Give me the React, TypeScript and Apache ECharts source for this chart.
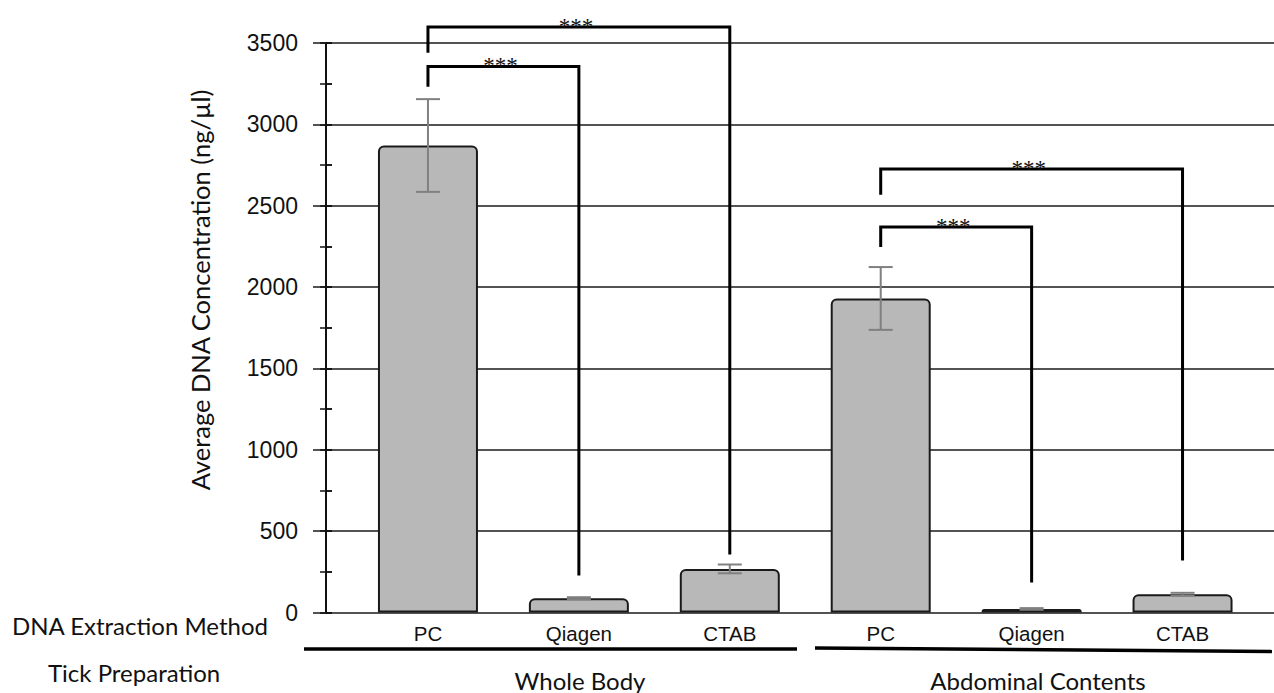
import React, { useEffect, useRef } from "react";
import * as echarts from "echarts";

const categories = ["PC", "Qiagen", "CTAB", "PC", "Qiagen", "CTAB"];
const meanValues = [2870, 88, 268, 1930, 22, 112];
const errorValues = [285, 6, 27, 193, 5, 9];
// [fromIndex, toIndex, topValue, leftLegEndValue, rightLegEndValue]
const bracketRows = [
  [0, 2, 3598, 3440, 356],
  [0, 1, 3356, 3231, 227],
  [3, 5, 2725, 2568, 319],
  [3, 4, 2369, 2246, 184],
];
const bracketLabel = "***";
const groupNames = ["Whole Body", "Abdominal Contents"];
const rowTitles = ["DNA Extraction Method", "Tick Preparation"];
const yTitle = "Average DNA Concentration (ng/µl)";
const Y_MAX = 3500;

export default function App() {
  const ref = useRef<HTMLDivElement>(null);
  useEffect(() => {
    if (!ref.current) return;
    const chart = echarts.init(ref.current, null, { renderer: "svg" });
    const top = 43;
    const height = 569.5;
    const calibri = "Lato, 'Open Sans', sans-serif";
    const arial = "Liberation Sans";
    chart.setOption({
      animation: false,
      backgroundColor: "#ffffff",
      grid: [
        { left: 313, right: 0, top, height },
        { left: 352.5, width: 905.5, top, height },
        { left: 326, right: 0, top, height },
        { left: 332, right: 0, top, height },
      ],
      xAxis: [
        { gridIndex: 0, type: "value", min: 0, max: 1, show: false },
        {
          gridIndex: 1,
          type: "category",
          data: categories,
          axisLine: { show: false },
          axisTick: { show: false },
          axisLabel: { fontSize: 20.5, color: "#111", fontFamily: arial, margin: 10 },
        },
        { gridIndex: 2, type: "value", min: 0, max: 1, show: false },
        { gridIndex: 3, type: "value", min: 0, max: 1, show: false },
      ],
      yAxis: [
        {
          gridIndex: 0,
          min: 0,
          max: Y_MAX,
          interval: 500,
          axisLine: { show: false },
          axisTick: { show: false },
          axisLabel: { show: false },
          splitLine: { show: true, lineStyle: { color: "#1a1a1a", width: 1.6 } },
        },
        { gridIndex: 1, min: 0, max: Y_MAX, show: false },
        {
          gridIndex: 2,
          min: 0,
          max: Y_MAX,
          interval: 250,
          axisLine: { show: true, onZero: false, lineStyle: { color: "#111", width: 1.6 } },
          axisTick: { show: true, inside: true, length: 6, lineStyle: { color: "#111", width: 1.5 } },
          axisLabel: { show: false },
          splitLine: { show: false },
        },
        {
          gridIndex: 3,
          min: 0,
          max: Y_MAX,
          interval: 250,
          axisLine: { show: false },
          axisTick: { show: true, inside: false, length: 12, lineStyle: { color: "#111", width: 1.5 } },
          axisLabel: {
            show: true,
            margin: 34,
            fontSize: 23,
            color: "#111",
            fontFamily: arial,
            formatter: (v: number) => (v % 500 === 0 ? String(v) : ""),
          },
          splitLine: { show: false },
        },
      ],
      series: [
        {
          type: "bar",
          xAxisIndex: 1,
          yAxisIndex: 1,
          data: meanValues,
          barWidth: 100,
          itemStyle: {
            color: "#b8b8b8",
            borderColor: "#1a1a1a",
            borderWidth: 2,
            borderRadius: [5, 5, 0, 0],
          },
        },
        {
          type: "custom",
          xAxisIndex: 1,
          yAxisIndex: 1,
          data: meanValues.map((v, i) => [i, v + errorValues[i], v - errorValues[i]]),
          encode: { x: 0, y: [1, 2] },
          renderItem: (params: any, api: any) => {
            const i = api.value(0);
            const hi = api.coord([i, api.value(1)]);
            const lo = api.coord([i, api.value(2)]);
            const w = 12;
            const style = { stroke: "#808080", lineWidth: 2, fill: null };
            return {
              type: "group",
              children: [
                { type: "line", shape: { x1: hi[0], y1: hi[1], x2: lo[0], y2: lo[1] }, style },
                { type: "line", shape: { x1: hi[0] - w, y1: hi[1], x2: hi[0] + w, y2: hi[1] }, style },
                { type: "line", shape: { x1: lo[0] - w, y1: lo[1], x2: lo[0] + w, y2: lo[1] }, style },
              ],
            };
          },
          z: 5,
        },
        {
          type: "custom",
          xAxisIndex: 1,
          yAxisIndex: 1,
          clip: false,
          data: bracketRows,
          encode: { x: [0, 1], y: [2, 3, 4] },
          renderItem: (params: any, api: any) => {
            const a = api.value(0);
            const b = api.value(1);
            const t = api.value(2);
            const p1 = api.coord([a, api.value(3)]);
            const p2 = api.coord([a, t]);
            const p3 = api.coord([b, t]);
            const p4 = api.coord([b, api.value(4)]);
            return {
              type: "group",
              children: [
                {
                  type: "polyline",
                  shape: { points: [p1, p2, p3, p4] },
                  style: { stroke: "#000", lineWidth: 3, fill: null, lineJoin: "miter" },
                },
                {
                  type: "text",
                  style: {
                    text: bracketLabel,
                    x: (p2[0] + p3[0]) / 2 - 3,
                    y: p2[1] - 1,
                    align: "center",
                    verticalAlign: "middle",
                    fill: "#111",
                    font: "23px 'Liberation Serif', serif",
                  },
                },
              ],
            };
          },
          z: 10,
        },
      ],
      graphic: [
        {
          type: "line",
          shape: { x1: 326, y1: top, x2: 326, y2: top + height },
          style: { stroke: "#111", lineWidth: 2 },
          z: 20,
        },
        {
          type: "text",
          x: 200,
          y: 290,
          rotation: Math.PI / 2,
          style: {
            text: yTitle,
            font: `25.5px ${calibri}`,
            fill: "#111",
            align: "center",
            verticalAlign: "middle",
          },
        },
        {
          type: "text",
          x: 12,
          y: 625,
          style: { text: rowTitles[0], font: `24px ${calibri}`, fill: "#111", align: "left", verticalAlign: "middle" },
        },
        {
          type: "text",
          x: 48,
          y: 672,
          style: { text: rowTitles[1], font: `24px ${calibri}`, fill: "#111", align: "left", verticalAlign: "middle" },
        },
        {
          type: "text",
          x: 580,
          y: 680,
          style: { text: groupNames[0], font: `24px ${calibri}`, fill: "#111", align: "center", verticalAlign: "middle" },
        },
        {
          type: "text",
          x: 1038,
          y: 680,
          style: { text: groupNames[1], font: `24px ${calibri}`, fill: "#111", align: "center", verticalAlign: "middle" },
        },
        {
          type: "line",
          shape: { x1: 304, y1: 649, x2: 797, y2: 649 },
          style: { stroke: "#000", lineWidth: 3.5 },
        },
        {
          type: "line",
          shape: { x1: 815, y1: 648, x2: 1272, y2: 651.5 },
          style: { stroke: "#000", lineWidth: 3.5 },
        },
      ],
    });
    return () => chart.dispose();
  }, []);
  return (
    <div
      ref={ref}
      style={{ position: "absolute", left: 0, top: 0, width: 1274, height: 693, background: "#fff" }}
    />
  );
}
